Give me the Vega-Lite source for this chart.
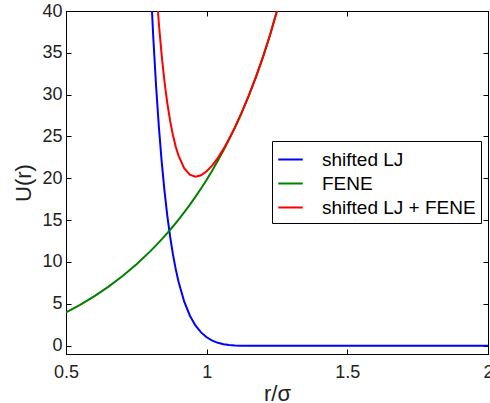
{
  "$schema": "https://vega.github.io/schema/vega-lite/v6.json",
  "autosize": {"type": "none"},
  "width": 422,
  "height": 343,
  "padding": {"left": 66, "top": 11, "right": 2, "bottom": 49},
  "background": "white",
  "config": {
    "font": "Liberation Sans",
    "view": {"stroke": "black", "strokeWidth": 1},
    "axis": {"grid": false, "domainColor": "black", "tickColor": "black", "labelColor": "#222", "titleColor": "#222", "labelFont": "Liberation Sans", "titleFont": "Liberation Sans", "labelFontSize": 18, "titleFontSize": 22, "titleFontWeight": "normal", "tickSize": -5, "format": "~g"}
  },
  "data": {"values": [
    {"r": 0.80, "s": "shifted LJ", "u": 43.95},
    {"r": 0.81, "s": "shifted LJ", "u": 36.98},
    {"r": 0.82, "s": "shifted LJ", "u": 31.12},
    {"r": 0.83, "s": "shifted LJ", "u": 26.19},
    {"r": 0.84, "s": "shifted LJ", "u": 22.03},
    {"r": 0.85, "s": "shifted LJ", "u": 18.52},
    {"r": 0.86, "s": "shifted LJ", "u": 15.55},
    {"r": 0.87, "s": "shifted LJ", "u": 13.05},
    {"r": 0.88, "s": "shifted LJ", "u": 10.93},
    {"r": 0.89, "s": "shifted LJ", "u": 9.146},
    {"r": 0.90, "s": "shifted LJ", "u": 7.636},
    {"r": 0.92, "s": "shifted LJ", "u": 5.283},
    {"r": 0.94, "s": "shifted LJ", "u": 3.607},
    {"r": 0.96, "s": "shifted LJ", "u": 2.418},
    {"r": 0.98, "s": "shifted LJ", "u": 1.582},
    {"r": 1.00, "s": "shifted LJ", "u": 1.0},
    {"r": 1.02, "s": "shifted LJ", "u": 0.602},
    {"r": 1.04, "s": "shifted LJ", "u": 0.337},
    {"r": 1.06, "s": "shifted LJ", "u": 0.168},
    {"r": 1.08, "s": "shifted LJ", "u": 0.068},
    {"r": 1.10, "s": "shifted LJ", "u": 0.017},
    {"r": 1.1225, "s": "shifted LJ", "u": 0},
    {"r": 2.0, "s": "shifted LJ", "u": 0},
    {"r": 0.50, "s": "FENE", "u": 3.975},
    {"r": 0.55, "s": "FENE", "u": 4.873},
    {"r": 0.60, "s": "FENE", "u": 5.884},
    {"r": 0.65, "s": "FENE", "u": 7.019},
    {"r": 0.70, "s": "FENE", "u": 8.290},
    {"r": 0.75, "s": "FENE", "u": 9.709},
    {"r": 0.80, "s": "FENE", "u": 11.296},
    {"r": 0.82, "s": "FENE", "u": 11.982},
    {"r": 0.84, "s": "FENE", "u": 12.700},
    {"r": 0.86, "s": "FENE", "u": 13.451},
    {"r": 0.88, "s": "FENE", "u": 14.238},
    {"r": 0.90, "s": "FENE", "u": 15.062},
    {"r": 0.92, "s": "FENE", "u": 15.926},
    {"r": 0.94, "s": "FENE", "u": 16.833},
    {"r": 0.96, "s": "FENE", "u": 17.785},
    {"r": 0.98, "s": "FENE", "u": 18.785},
    {"r": 1.00, "s": "FENE", "u": 19.838},
    {"r": 1.02, "s": "FENE", "u": 20.947},
    {"r": 1.04, "s": "FENE", "u": 22.116},
    {"r": 1.06, "s": "FENE", "u": 23.352},
    {"r": 1.08, "s": "FENE", "u": 24.659},
    {"r": 1.10, "s": "FENE", "u": 26.045},
    {"r": 1.1225, "s": "FENE", "u": 27.708},
    {"r": 1.15, "s": "FENE", "u": 29.909},
    {"r": 1.175, "s": "FENE", "u": 32.093},
    {"r": 1.20, "s": "FENE", "u": 34.481},
    {"r": 1.225, "s": "FENE", "u": 37.106},
    {"r": 1.25, "s": "FENE", "u": 40.015},
    {"r": 1.27, "s": "FENE", "u": 42.584},
    {"r": 0.80, "s": "shifted LJ + FENE", "u": 55.25},
    {"r": 0.81, "s": "shifted LJ + FENE", "u": 48.62},
    {"r": 0.82, "s": "shifted LJ + FENE", "u": 43.10},
    {"r": 0.83, "s": "shifted LJ + FENE", "u": 38.53},
    {"r": 0.84, "s": "shifted LJ + FENE", "u": 34.73},
    {"r": 0.85, "s": "shifted LJ + FENE", "u": 31.59},
    {"r": 0.86, "s": "shifted LJ + FENE", "u": 29.00},
    {"r": 0.87, "s": "shifted LJ + FENE", "u": 26.89},
    {"r": 0.88, "s": "shifted LJ + FENE", "u": 25.17},
    {"r": 0.89, "s": "shifted LJ + FENE", "u": 23.79},
    {"r": 0.90, "s": "shifted LJ + FENE", "u": 22.70},
    {"r": 0.92, "s": "shifted LJ + FENE", "u": 21.21},
    {"r": 0.94, "s": "shifted LJ + FENE", "u": 20.44},
    {"r": 0.96, "s": "shifted LJ + FENE", "u": 20.20},
    {"r": 0.98, "s": "shifted LJ + FENE", "u": 20.37},
    {"r": 1.00, "s": "shifted LJ + FENE", "u": 20.84},
    {"r": 1.02, "s": "shifted LJ + FENE", "u": 21.55},
    {"r": 1.04, "s": "shifted LJ + FENE", "u": 22.45},
    {"r": 1.06, "s": "shifted LJ + FENE", "u": 23.52},
    {"r": 1.08, "s": "shifted LJ + FENE", "u": 24.73},
    {"r": 1.10, "s": "shifted LJ + FENE", "u": 26.06},
    {"r": 1.1225, "s": "shifted LJ + FENE", "u": 27.708},
    {"r": 1.15, "s": "shifted LJ + FENE", "u": 29.909},
    {"r": 1.175, "s": "shifted LJ + FENE", "u": 32.093},
    {"r": 1.20, "s": "shifted LJ + FENE", "u": 34.481},
    {"r": 1.225, "s": "shifted LJ + FENE", "u": 37.106},
    {"r": 1.25, "s": "shifted LJ + FENE", "u": 40.015},
    {"r": 1.27, "s": "shifted LJ + FENE", "u": 42.584}
  ]},
  "encoding": {
    "x": {"field": "r", "type": "quantitative", "scale": {"domain": [0.5, 2], "nice": false, "zero": false}},
    "y": {"field": "u", "type": "quantitative", "scale": {"domain": [-1, 40], "nice": false, "zero": false}},
    "color": {"field": "s", "type": "nominal", "scale": {"domain": ["shifted LJ", "FENE", "shifted LJ + FENE"], "range": ["#0000ff", "#008000", "#ff0000"]},
      "legend": {"title": null, "orient": "none", "legendX": 206, "legendY": 130, "symbolType": "stroke", "symbolSize": 600, "symbolStrokeWidth": 2, "labelFontSize": 19, "labelFont": "Liberation Sans", "labelColor": "black", "labelOffset": 18, "rowPadding": 0, "padding": 5, "strokeColor": "black", "fillColor": "white", "cornerRadius": 0}}
  },
  "layer": [
    {
      "transform": [{"filter": "datum.s == 'shifted LJ'"}],
      "mark": {"type": "line", "strokeWidth": 2, "clip": true},
      "encoding": {
        "x": {"field": "r", "type": "quantitative", "axis": {"orient": "bottom", "values": [0.5, 1, 1.5, 2], "title": "r/σ", "labelPadding": 14, "titlePadding": 2, "labelFlush": false}},
        "y": {"field": "u", "type": "quantitative", "axis": {"orient": "left", "values": [0, 5, 10, 15, 20, 25, 30, 35, 40], "title": "U(r)", "labelPadding": 9, "titlePadding": 6}}
      }
    },
    {
      "transform": [{"filter": "datum.s == 'FENE'"}],
      "mark": {"type": "line", "strokeWidth": 2, "clip": true},
      "encoding": {
        "x": {"field": "r", "type": "quantitative", "axis": {"orient": "top", "values": [0.5, 1, 1.5, 2], "labels": false, "title": null}},
        "y": {"field": "u", "type": "quantitative", "axis": {"orient": "right", "values": [0, 5, 10, 15, 20, 25, 30, 35, 40], "labels": false, "title": null}}
      }
    },
    {
      "transform": [{"filter": "datum.s == 'shifted LJ + FENE'"}],
      "mark": {"type": "line", "strokeWidth": 2, "clip": true},
      "encoding": {
        "x": {"field": "r", "type": "quantitative", "axis": null},
        "y": {"field": "u", "type": "quantitative", "axis": null}
      }
    }
  ],
  "resolve": {"axis": {"x": "independent", "y": "independent"}}
}
